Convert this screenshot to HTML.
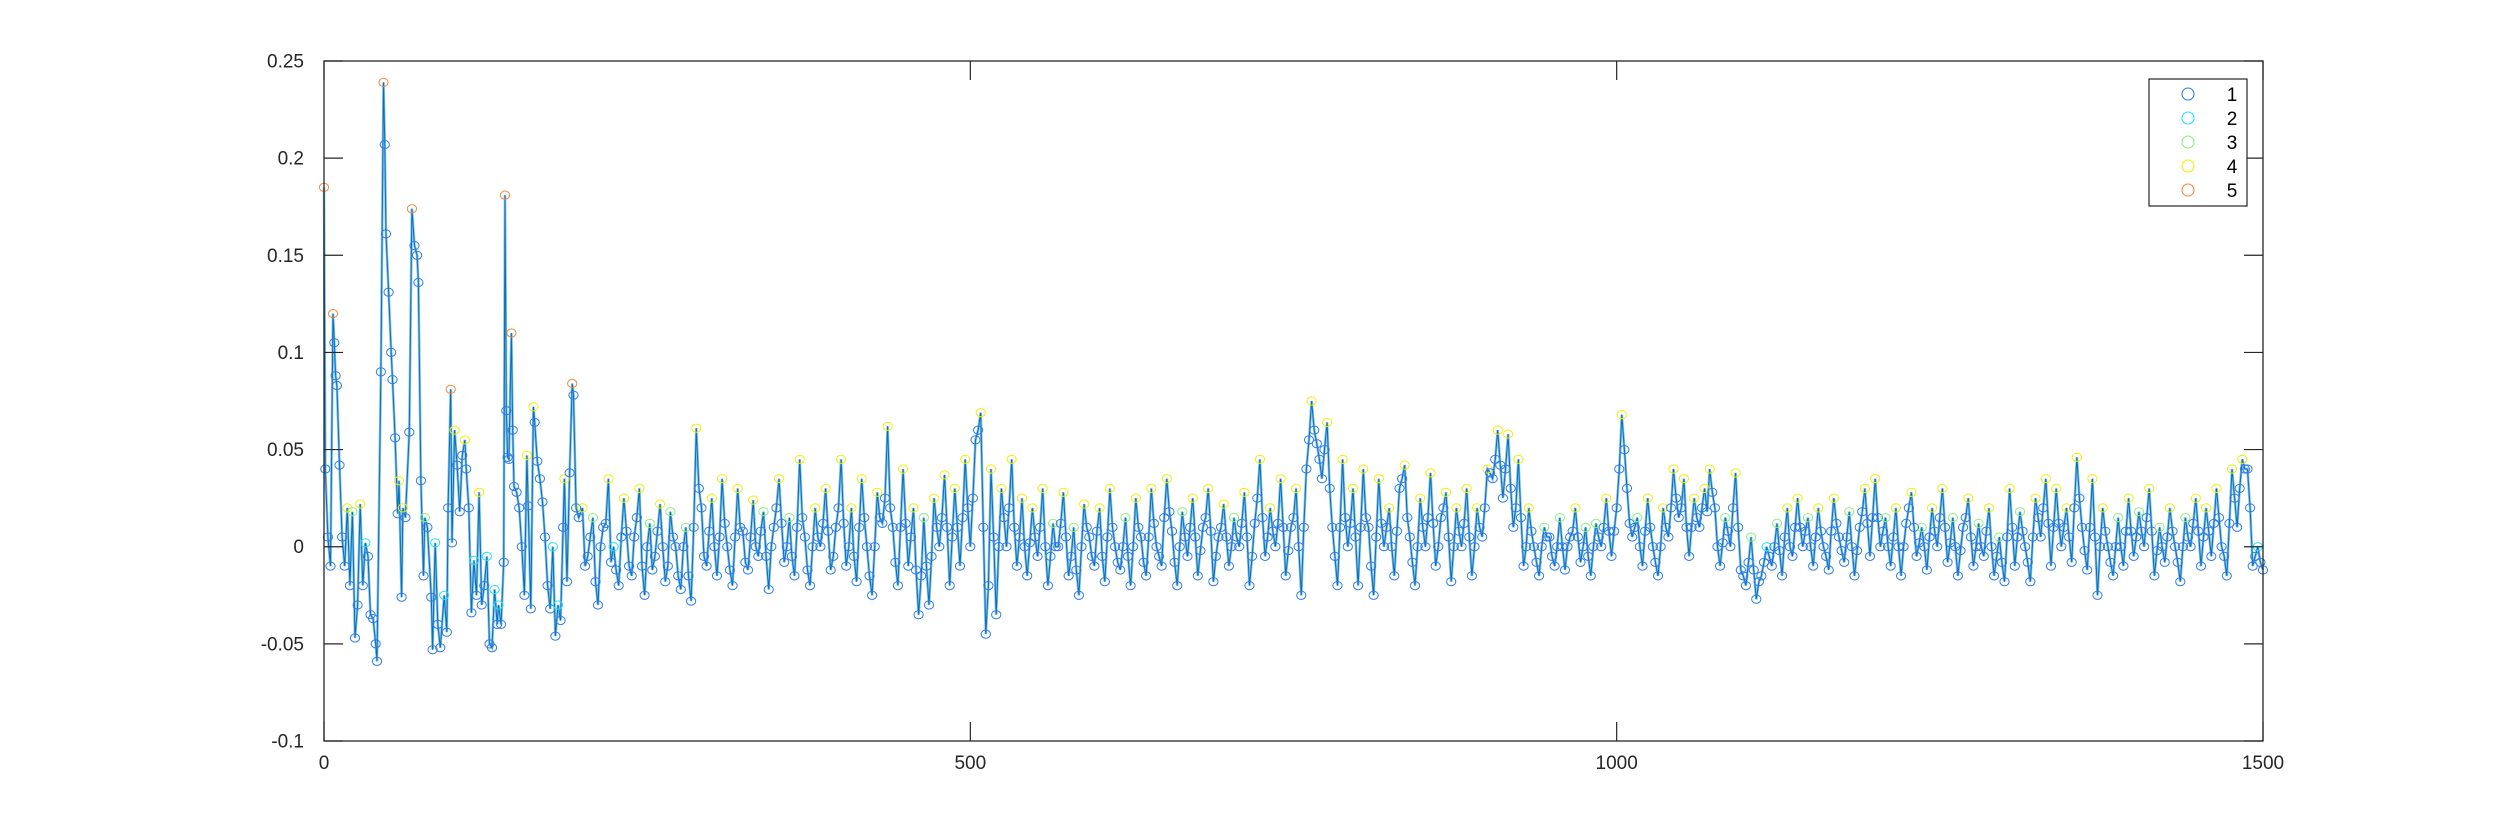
<!DOCTYPE html>
<html><head><meta charset="utf-8"><style>
html,body{margin:0;padding:0;background:#fff;}
svg{display:block;font-family:"Liberation Sans",Helvetica,sans-serif;}
</style></head><body>
<svg id="chart" width="2500" height="833" viewBox="0 0 2500 833" xmlns="http://www.w3.org/2000/svg">
<rect x="0" y="0" width="2500" height="833" fill="#fff"/>
<g id="plot"></g>
<g id="axes"></g>
<g id="legend"></g>
</svg>
<script>
const earlyIdx = [0,1,3,5,7,8,9,10,12,14,16,18,20,22,24,26,28,30,32,34,36,38,40,41,44,46,47,48,50,52,53,55,57,58,60,61,63,66,68,70,72,73,75,77,78,80,83,84,86,88,90,93,95,96,98,99,101,103,105,107,109,110,112,114,116,118,120,122,124,126,128,130,132,134,135,137,139,140,141,142,143,145,146,147,149,151,153,155,157,158,160,162,163,165,167,169,171,173,175,177,179,181,183,185,186,188,190,192,193,195,197];
const earlyVals = [.185,.04,.005,-.01,.12,.105,.088,.083,.042,.005,-.01,.02,-.02,.018,-.047,-.03,.022,-.02,.002,-.005,-.035,-.037,-.05,-.059,.09,.239,.207,.161,.131,.1,.086,.056,.017,.034,-.026,.02,.015,.059,.174,.155,.15,.136,.034,-.015,.015,.01,-.026,-.053,.002,-.04,-.052,-.025,-.044,.02,.081,.002,.06,.042,.018,.047,.055,.04,.02,-.034,-.007,-.025,.028,-.03,-.02,-.005,-.05,-.052,-.022,-.04,-.03,-.04,-.008,.181,.07,.046,.045,.11,.06,.031,.028,.02,0,-.025,.047,.021,-.032,.072,.064,.044,.035,.023,.005,-.02,-.032,0,-.046,-.03,-.038,.01,.035,-.018,.038,.084,.078,.02,.015];
const lateStart = 200;
const lateStep = 4;
const lateVals = [
0.02,-0.005,0.015,-0.03,0.01,0.035,0.0,-0.02,0.025,-0.01,
0.005,0.03,-0.025,0.012,-0.005,0.022,-0.018,0.018,0.0,-0.022,
0.01,-0.028,0.061,0.02,-0.01,0.025,-0.015,0.035,0.0,-0.02,
0.03,0.008,-0.012,0.024,-0.005,0.018,-0.022,0.01,0.035,-0.008,
0.015,-0.015,0.045,0.005,-0.02,0.02,0.0,0.03,-0.012,0.01,
0.045,-0.01,0.02,-0.018,0.035,0.0,-0.025,0.028,0.012,0.062,
0.01,-0.02,0.04,-0.01,0.02,-0.035,0.015,-0.03,0.025,0.0,
0.037,-0.02,0.03,-0.01,0.045,0.0,0.055,0.069,-0.045,0.04,
-0.035,0.03,0.0,0.045,-0.01,0.025,-0.015,0.02,-0.005,0.03,
-0.02,0.012,0.0,0.028,-0.015,0.01,-0.025,0.022,0.005,-0.01,
0.02,-0.018,0.03,0.0,-0.012,0.015,-0.02,0.025,0.005,-0.015,
0.03,0.0,-0.01,0.035,0.008,-0.02,0.018,-0.005,0.025,-0.015,
0.01,0.03,-0.018,0.005,0.022,-0.01,0.015,0.0,0.028,-0.02,
0.012,0.045,-0.005,0.02,0.0,0.035,-0.015,0.01,0.03,-0.025,
0.04,0.075,0.053,0.035,0.064,0.01,-0.02,0.045,0.0,0.03,
-0.02,0.04,0.01,-0.025,0.035,0.0,0.02,-0.015,0.03,0.042,
0.005,-0.02,0.025,0.0,0.038,-0.01,0.015,0.028,-0.018,0.02,
0.0,0.03,-0.015,0.02,0.005,0.04,0.035,0.06,0.025,0.058,
0.01,0.045,-0.01,0.02,0.0,-0.015,0.01,0.005,-0.01,0.015,
-0.012,0.005,0.02,-0.008,0.01,-0.015,0.012,0.0,0.025,-0.005,
0.02,0.068,0.03,0.005,0.015,-0.01,0.025,0.0,-0.015,0.02,
0.005,0.04,0.015,0.035,-0.005,0.025,0.01,0.03,0.04,0.02,
-0.01,0.015,0.0,0.038,-0.012,-0.02,0.005,-0.027,-0.015,0.0,
-0.01,0.012,-0.015,0.02,-0.005,0.025,0.0,0.015,-0.01,0.02,
0.0,-0.012,0.025,0.005,-0.008,0.018,-0.015,0.01,0.03,-0.005,
0.035,0.0,0.015,-0.01,0.02,-0.015,0.012,0.028,-0.005,0.01,
-0.012,0.02,0.0,0.03,-0.008,0.015,-0.015,0.01,0.025,-0.01,
0.012,-0.005,0.02,-0.015,0.005,-0.018,0.03,-0.01,0.018,0.0,
-0.018,0.025,0.005,0.035,-0.01,0.03,0.0,0.02,-0.008,0.046,
0.01,-0.012,0.035,-0.025,0.02,0.0,-0.015,0.015,-0.01,0.025,
-0.005,0.018,0.0,0.03,-0.015,0.01,-0.008,0.02,0.0,-0.018,
0.015,0.0,0.025,-0.01,0.02,-0.005,0.03,0.0,-0.015,0.04,
0.01,0.045,0.04,-0.01,0.0,-0.012];
const midStart = 202;
const midVals = [
-0.01,0.005,-0.018,0.0,0.012,-0.008,-0.012,0.005,0.008,-0.015,
0.015,-0.01,0.0,-0.012,0.008,0.0,-0.01,0.005,-0.015,0.0,
-0.015,0.01,0.03,-0.005,0.008,0.0,0.005,0.012,-0.012,0.005,
0.01,-0.008,0.005,0.0,0.008,-0.005,0.0,0.02,0.012,0.0,
-0.005,0.01,0.015,-0.012,0.0,0.005,0.012,0.008,-0.005,0.02,
0.012,0.0,-0.005,0.01,0.015,-0.015,0.0,0.015,0.025,0.02,
-0.008,0.01,0.012,0.005,-0.012,-0.015,-0.01,-0.005,0.01,0.015,
0.01,0.005,0.01,0.015,0.02,0.025,0.06,0.01,-0.02,0.005,
0.0,0.015,0.02,0.01,0.005,0.0,0.002,0.005,0.01,0.0,
-0.005,0.0,0.012,0.005,-0.005,-0.012,0.0,0.01,-0.005,0.008,
-0.005,0.005,0.01,-0.008,0.0,-0.005,0.0,0.01,-0.008,0.005,
0.012,-0.005,0.015,0.018,-0.008,0.0,0.005,0.01,0.005,-0.002,
0.015,0.008,-0.005,0.01,0.005,0.0,0.005,0.012,0.005,-0.005,
0.025,0.015,0.005,0.008,0.012,0.01,-0.002,0.015,0.0,0.01,
0.055,0.06,0.045,0.05,0.03,-0.005,0.01,0.015,0.012,0.005,
0.01,0.015,-0.01,0.005,0.012,0.01,0.0,0.008,0.035,0.015,
-0.008,0.0,0.01,0.015,0.012,0.0,0.02,0.005,0.0,0.008,
0.012,0.005,0.0,0.01,0.02,0.038,0.045,0.042,0.04,0.03,
0.02,0.015,0.0,0.008,-0.008,0.0,0.005,-0.005,0.0,0.0,
0.0,0.008,0.005,0.0,-0.005,0.0,0.005,0.01,0.008,0.008,
0.04,0.05,0.012,0.01,0.0,0.008,0.01,-0.008,0.0,0.01,
0.02,0.025,0.02,0.01,0.01,0.015,0.02,0.018,0.028,0.0,
0.002,0.008,0.02,0.01,-0.015,-0.008,-0.012,-0.018,-0.008,-0.005,
0.0,-0.002,0.005,0.0,0.01,0.01,0.008,0.0,0.005,0.008,
-0.005,0.008,0.012,-0.002,0.005,0.0,-0.002,0.018,0.012,0.015,
0.015,0.008,0.0,0.005,0.0,0.0,0.02,0.01,0.002,0.0,
0.005,0.008,0.015,0.01,0.002,0.0,-0.002,0.015,0.005,0.0,
0.0,0.008,0.0,-0.005,-0.008,0.005,0.01,0.005,0.008,-0.008,
0.005,0.015,0.02,0.012,0.01,0.012,0.01,0.005,0.02,0.025,
-0.002,0.01,0.005,0.0,0.008,-0.008,0.0,0.0,0.008,0.008,
0.005,0.008,0.015,0.008,-0.002,0.0,0.005,0.008,-0.008,0.0,
0.005,0.012,0.008,0.005,0.008,0.012,0.015,-0.005,0.012,0.025,
0.03,0.04,0.02,-0.005,-0.008];
const xTicks = [0,500,1000,1500];
const xTickLabels = ["0","500","1000","1500"];
const yTicks = [-0.1,-0.05,0,0.05,0.1,0.15,0.2,0.25];
const yTickLabels = ["-0.1","-0.05","0","0.05","0.1","0.15","0.2","0.25"];
const legendLabels = ["1","2","3","4","5"];
const classColors = ["#2C7BF0","#1FE5F0","#88F07A","#F2EE00","#F5873A"];

const NS = "http://www.w3.org/2000/svg";
const L = 324, R = 2263, T = 61, B = 741;
const xMin = 0, xMax = 1500, yMin = -0.1, yMax = 0.25;
function xs(v){ return L + (v - xMin) / (xMax - xMin) * (R - L); }
function ys(v){ return B - (v - yMin) / (yMax - yMin) * (B - T); }
function mk(tag, attrs, parent){ const e = document.createElementNS(NS, tag); for (const k in attrs) e.setAttribute(k, attrs[k]); parent.appendChild(e); return e; }

const pts = [];
earlyIdx.forEach((x, i) => pts.push([x, earlyVals[i]]));
lateVals.forEach((v, k) => pts.push([lateStart + k * lateStep, v]));
midVals.forEach((v, k) => pts.push([midStart + k * lateStep, v]));
pts.sort((a, b) => a[0] - b[0]);
const X = pts.map(p => p[0]);
const Y = pts.map(p => p[1]);

const plot = document.getElementById('plot');
let d = '';
X.forEach((x, i) => { d += (i ? 'L' : 'M') + xs(x).toFixed(1) + ' ' + ys(Y[i]).toFixed(1); });
const l1 = mk('path', {d: d, fill: 'none', stroke: '#8CC0E3', 'stroke-width': 2.6}, plot);


const l2 = mk('path', {d: d, fill: 'none', stroke: '#0072BD', 'stroke-width': 1}, plot);



function cls(i){
  const v = Y[i], p = i > 0 ? Y[i-1] : -1, n = i < Y.length - 1 ? Y[i+1] : -1;
  if (v > p && v > n) {
    if (v >= 0.08) return 4;
    if (v >= 0.02) return 3;
    if (v >= 0.005) return 2;
    return 1;
  }
  return 0;
}
X.forEach((x, i) => {
  const c = cls(i);
  const m = mk('ellipse', {cx: xs(x).toFixed(1), cy: ys(Y[i]).toFixed(1), rx: 4.6, ry: 4.1, fill: 'none', stroke: classColors[c], 'stroke-width': 1}, plot);
  
  
});

const axes = document.getElementById('axes');
const box = mk('rect', {x: L, y: T, width: R - L, height: B - T, fill: 'none', stroke: '#262626', 'stroke-width': 1.3}, axes);


yTicks.forEach((t, i) => {
  const y = ys(t);
  const tk = mk('path', {d: `M${L} ${y}H${L+19}M${R} ${y}H${R-19}`, stroke: '#262626', 'stroke-width': 1.2}, axes);
  
  
  const tx = mk('text', {x: L - 20, y: y + 6.5, 'text-anchor': 'end', 'font-size': 19, fill: '#262626'}, axes);
  tx.textContent = yTickLabels[i];
  
  
});
xTicks.forEach((t, i) => {
  const x = xs(t);
  const tk = mk('path', {d: `M${x} ${B}V${B-19}M${x} ${T}V${T+19}`, stroke: '#262626', 'stroke-width': 1.2}, axes);
  
  
  const tx = mk('text', {x: x, y: B + 28, 'text-anchor': 'middle', 'font-size': 19, fill: '#262626'}, axes);
  tx.textContent = xTickLabels[i];
  
  
});

const lg = document.getElementById('legend');
const lb = mk('rect', {x: 2149, y: 79, width: 98, height: 127, fill: '#fff', stroke: '#262626', 'stroke-width': 1.2}, lg);


legendLabels.forEach((s, i) => {
  const y = 94 + i * 24;
  const c = mk('circle', {cx: 2188, cy: y, r: 6, fill: 'none', stroke: classColors[i], 'stroke-width': 1.1}, lg);
  
  
  const t = mk('text', {x: 2232, y: y + 7, 'text-anchor': 'middle', 'font-size': 19, fill: '#000'}, lg);
  t.textContent = s;
  
  
});
</script>
</body></html>
